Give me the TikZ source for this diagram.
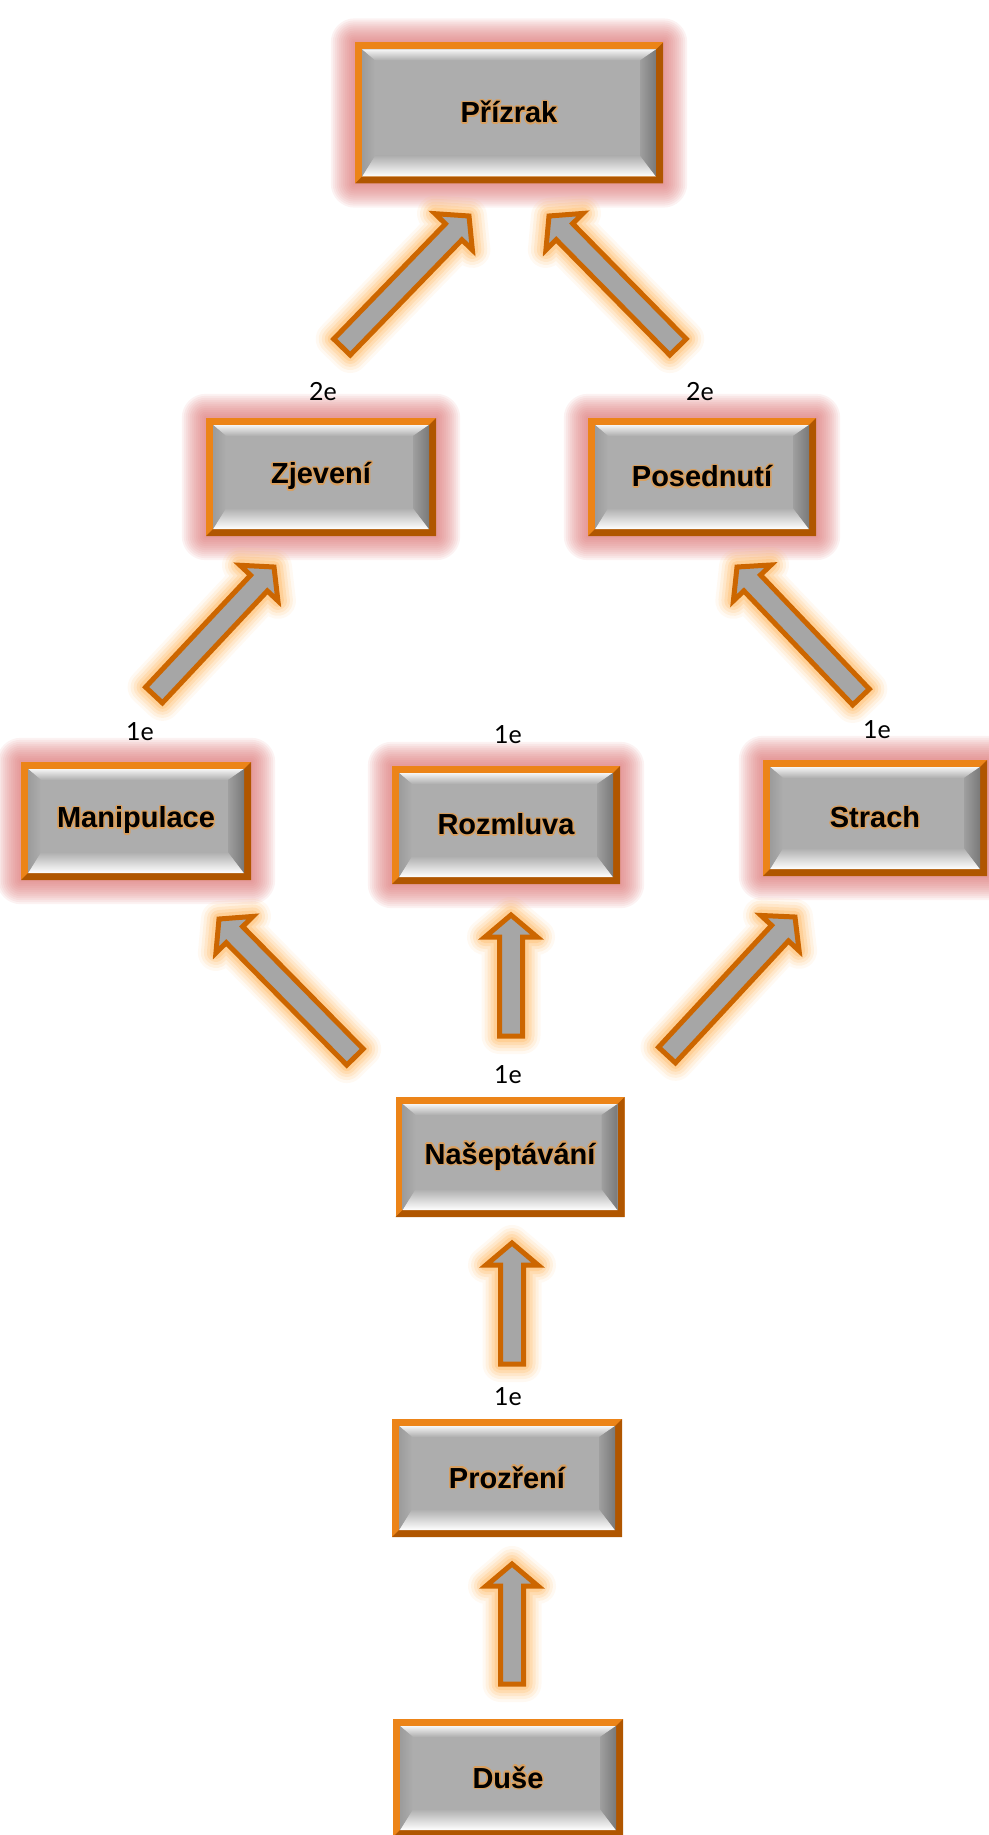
\documentclass[tikz,border=0pt]{standalone}
\usepackage{fontspec}
\setmainfont{Liberation Sans}
\newfontfamily\efont{Lato}
\usepackage{contour}
\contourlength{1.4pt}
\usepackage{tikz}
\usetikzlibrary{calc}
\pgfdeclarelayer{background}
\pgfsetlayers{background,main}

\definecolor{framelight}{HTML}{EC8418}
\definecolor{framedark}{HTML}{B05600}
\definecolor{faceg}{HTML}{ADADAD}
\definecolor{arrowline}{HTML}{CC6600}
\definecolor{arrowfill}{HTML}{A6A6A6}
\definecolor{arrowglow}{HTML}{FFB45A}
\definecolor{boxglow}{HTML}{D96A6A}
\definecolor{texthalo}{HTML}{D9A060}

\newcommand{\halo}[1]{\contour{texthalo}{#1}}

\tikzstyle{bevelbox}=[minimum width=230pt,minimum height=118pt,inner sep=0pt,
  font=\fontsize{29}{31}\selectfont\bfseries,
  path picture={
    \path (path picture bounding box.south west) coordinate (bsw)
          (path picture bounding box.north east) coordinate (bne)
          (bsw |- bne) coordinate (bnw) (bne |- bsw) coordinate (bse);
    \fill[framelight] (bsw) rectangle (bne);
    \fill[framedark] (bsw) -- (bse) -- (bne) -- ++(-7pt,-7pt)
      -- ($(bse)+(-7pt,7pt)$) -- ($(bsw)+(7pt,7pt)$) -- cycle;
    \path ($(bsw)+(7pt,7pt)$) coordinate (isw) ($(bne)+(-7pt,-7pt)$) coordinate (ine)
          (isw |- ine) coordinate (inw) (ine |- isw) coordinate (ise);
    \fill[faceg] (isw) rectangle (ine);
    \shade[top color=white!92!gray,bottom color=faceg] (inw) -- (ine)
      -- ($(ine)+(-16pt,-11pt)$) -- ($(inw)+(13pt,-11pt)$) -- cycle;
    \shade[top color=faceg,bottom color=white] (isw) -- (ise)
      -- ($(ise)+(-16pt,21pt)$) -- ($(isw)+(13pt,21pt)$) -- cycle;
    \shade[left color=gray!78,right color=faceg] (inw) -- ($(inw)+(13pt,-11pt)$)
      -- ($(isw)+(13pt,21pt)$) -- (isw) -- cycle;
    \shade[left color=faceg!92!black,right color=faceg!70!black] (ine)
      -- ($(ine)+(-16pt,-11pt)$) -- ($(ise)+(-16pt,21pt)$) -- (ise) -- cycle;
  }]

\newcommand{\blockarrow}[2]{%
  \coordinate (hb) at ($(#2)!22pt!(#1)$);
  \draw[blockarrow] ($(#1)!11.5pt!-90:(#2)$) -- ($(hb)!11.5pt!-90:(#2)$)
    -- ($(hb)!26pt!-90:(#2)$) -- (#2) -- ($(hb)!26pt!90:(#2)$)
    -- ($(hb)!11.5pt!90:(#2)$) -- ($(#1)!11.5pt!90:(#2)$) -- cycle;
}

\begin{document}
\begin{tikzpicture}[x=1pt,y=1pt,
  elabel/.style={font=\efont\fontsize{25}{27}\selectfont},
  glow/.style={boxglow,opacity=0.085},
  blockarrow/.style={draw=arrowline,fill=arrowfill,line width=5pt,
    preaction={draw=arrowglow,line width=36pt,opacity=0.08,line join=round},
    preaction={draw=arrowglow,line width=30pt,opacity=0.12,line join=round},
    preaction={draw=arrowglow,line width=24pt,opacity=0.16,line join=round},
    preaction={draw=arrowglow,line width=18pt,opacity=0.22,line join=round},
    preaction={draw=arrowglow,line width=12pt,opacity=0.3,line join=round}}]
\useasboundingbox (0,0) rectangle (988,-1835);

\node[bevelbox,minimum width=308pt,minimum height=141pt] (prizrak) at (509,-113) {\halo{Přízrak}};
\node[bevelbox] (zjeveni) at (321,-477) {\halo{Zjevení}};
\node[bevelbox,minimum width=228pt] (posednuti) at (702,-477) {\halo{Posednutí}};
\node[bevelbox] (manipulace) at (136,-821) {\halo{Manipulace}};
\node[bevelbox,minimum width=228pt] (rozmluva) at (506,-825) {\halo{Rozmluva}};
\node[bevelbox,minimum width=224pt,minimum height=116pt] (strach) at (875,-818) {\halo{Strach}};
\node[bevelbox,minimum width=229pt,minimum height=120pt] (naseptavani) at (510,-1157) {\halo{Našeptávání}};
\node[bevelbox] (prozreni) at (507,-1478) {\halo{Prozření}};
\node[bevelbox] (duse) at (508,-1778) {\halo{Duše}};

\node[elabel] (e-zjeveni) at (323,-392) {2e};
\node[elabel] (e-posednuti) at (700,-392) {2e};
\node[elabel] (e-manipulace) at (140,-732) {1e};
\node[elabel] (e-rozmluva) at (508,-735) {1e};
\node[elabel] (e-strach) at (877,-730) {1e};
\node[elabel] (e-naseptavani) at (508,-1075) {1e};
\node[elabel] (e-prozreni) at (508,-1397) {1e};

\begin{pgfonlayer}{background}
\foreach \n in {prizrak,zjeveni,posednuti,manipulace,rozmluva,strach}
  \foreach \g in {2,4,...,24}
    \fill[glow,rounded corners=\g pt] ($(\n.south west)+(-\g,-\g)$) rectangle ($(\n.north east)+(\g,\g)$);
\end{pgfonlayer}

\coordinate (zj-t) at (342,-347);
\coordinate (zj-h) at (469,-216);
\coordinate (po-t) at (678,-347);
\coordinate (po-h) at (549,-216);
\coordinate (ma-t) at (154,-695);
\coordinate (ma-h) at (274,-567);
\coordinate (st-t) at (861,-697);
\coordinate (st-h) at (737,-567);
\coordinate (nm-t) at (355,-1057);
\coordinate (nm-h) at (219,-919);
\coordinate (nr-t) at (511,-1036);
\coordinate (nr-h) at (511,-915);
\coordinate (ns-t) at (667,-1055);
\coordinate (ns-h) at (795,-917);
\coordinate (pr-t) at (512,-1364);
\coordinate (pr-h) at (512,-1243);
\coordinate (du-t) at (512,-1684);
\coordinate (du-h) at (512,-1564);

\blockarrow{zj-t}{zj-h}
\blockarrow{po-t}{po-h}
\blockarrow{ma-t}{ma-h}
\blockarrow{st-t}{st-h}
\blockarrow{nm-t}{nm-h}
\blockarrow{nr-t}{nr-h}
\blockarrow{ns-t}{ns-h}
\blockarrow{pr-t}{pr-h}
\blockarrow{du-t}{du-h}
\end{tikzpicture}
\end{document}
